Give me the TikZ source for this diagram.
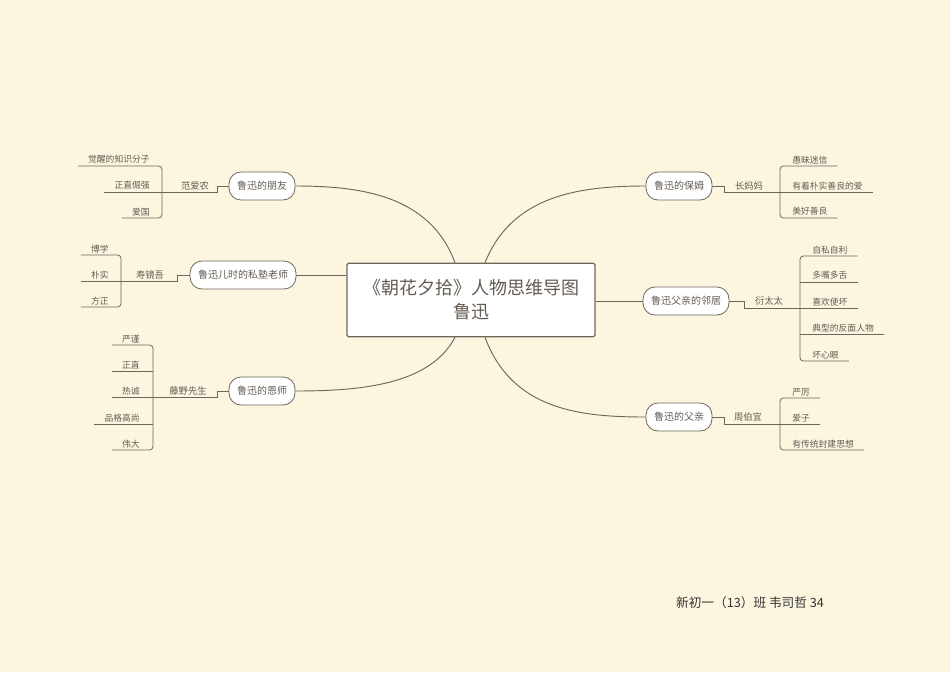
\documentclass[tikz,border=0pt]{standalone}
\usepackage{fontspec}
\setmainfont{Noto Sans CJK SC}
\definecolor{bg}{RGB}{252,245,224}
\definecolor{ln}{RGB}{110,102,92}
\definecolor{tx}{RGB}{100,92,84}
\begin{document}
\begin{tikzpicture}[x=0.75pt,y=-0.75pt,
  pill/.style={draw=ln,fill=white,rounded corners=9pt,minimum height=21pt,inner xsep=6pt,font=\fontsize{7.5}{9}\selectfont,text=tx,line width=0.6pt},
  lab/.style={font=\fontsize{7}{8}\selectfont,text=tx,inner sep=1pt},
  leaf/.style={font=\fontsize{6.6}{8}\selectfont,text=tx,inner sep=1.5pt},
  con/.style={draw=ln,line width=0.7pt},
  br/.style={draw=ln,line width=0.6pt,rounded corners=2.5pt}]
\fill[bg] (0,0) rectangle (950,672);
\useasboundingbox (0,0) rectangle (950,672);
\node[draw=ln,fill=white,line width=0.9pt,minimum width=186pt,minimum height=55pt,align=center,text=tx,font=\fontsize{13.5}{18}\selectfont,rounded corners=1pt] (c) at (471,300) {《朝花夕拾》人物思维导图\\鲁迅};
% left pills
\node[pill] (f) at (262,186) {鲁迅的朋友};
\node[pill] (t) at (243,275) {鲁迅儿时的私塾老师};
\node[pill] (m) at (262,391) {鲁迅的恩师};
\node[pill] (n) at (679,186) {鲁迅的保姆};
\node[pill] (nb) at (686,301) {鲁迅父亲的邻居};
\node[pill] (fa) at (679,417) {鲁迅的父亲};
\draw[con] (c.north)++(-16,0) coordinate (c1) .. controls (430,195) and (360,186) .. (f.east);
\draw[con] (c.west |- t) -- (t.east);
\draw[con] (c.south)++(-16,0) coordinate (c2) .. controls (430,385) and (360,391) .. (m.east);
\draw[con] (c.north)++(14,0) coordinate (c3) .. controls (512,195) and (580,186) .. (n.west);
\draw[con] (c.east |- nb) -- (nb.west);
\draw[con] (c.south)++(14,0) coordinate (c4) .. controls (512,410) and (580,417) .. (fa.west);
% left: friend
\node[lab] (fl) at (195,186) {范爱农};
\draw[con,line width=0.6pt] (f.west) -- (217,186) -- (217,192) -- (162,192);
\node[leaf,anchor=south east] (f1) at (152,166) {觉醒的知识分子};
\node[leaf,anchor=south east] (f2) at (152,192) {正直倔强};
\node[leaf,anchor=south east] (f3) at (152,218) {爱国};
\draw[br] ([xshift=-6pt]f1.south west) -- (162,166) -- (162,218) -- ([xshift=-6pt]f3.south west);
\draw[br] (162,192) -- ([xshift=-6pt]f2.south west);
% teacher
\node[lab] (tl) at (150,275) {寿镜吾};
\draw[con,line width=0.6pt] (t.west) -- (177,275) -- (177,281) -- (121,281);
\node[leaf,anchor=south east] (t1) at (111,255) {博学};
\node[leaf,anchor=south east] (t2) at (111,281) {朴实};
\node[leaf,anchor=south east] (t3) at (111,307) {方正};
\draw[br] ([xshift=-6pt]t1.south west) -- (121,255) -- (121,307) -- ([xshift=-6pt]t3.south west);
\draw[br] (121,281) -- ([xshift=-6pt]t2.south west);
% mentor
\node[lab] (ml) at (188,391) {藤野先生};
\draw[con,line width=0.6pt] (m.west) -- (217,391) -- (217,397) -- (153,397);
\node[leaf,anchor=south east] (m1) at (142,345) {严谨};
\node[leaf,anchor=south east] (m2) at (142,371) {正直};
\node[leaf,anchor=south east] (m3) at (142,397) {热诚};
\node[leaf,anchor=south east] (m4) at (142,424) {品格高尚};
\node[leaf,anchor=south east] (m5) at (142,450) {伟大};
\draw[br] ([xshift=-6pt]m1.south west) -- (153,345) -- (153,450) -- ([xshift=-6pt]m5.south west);
\draw[br] (153,371) -- ([xshift=-6pt]m2.south west);
\draw[br] (153,397) -- ([xshift=-6pt]m3.south west);
\draw[br] (153,424) -- ([xshift=-6pt]m4.south west);
% nanny
\node[lab] (nl) at (749,186) {长妈妈};
\draw[con,line width=0.6pt] (n.east) -- (724,186) -- (724,192) -- (780,192);
\node[leaf,anchor=south west] (n1) at (790,166) {愚昧迷信};
\node[leaf,anchor=south west] (n2) at (790,192) {有着朴实善良的爱};
\node[leaf,anchor=south west] (n3) at (790,218) {美好善良};
\draw[br] ([xshift=6pt]n1.south east) -- (780,166) -- (780,218) -- ([xshift=6pt]n3.south east);
\draw[br] (780,192) -- ([xshift=6pt]n2.south east);
% neighbour
\node[lab] (bl) at (769,301) {衍太太};
\draw[con,line width=0.6pt] (nb.east) -- (744,301) -- (744,308) -- (800,308);
\node[leaf,anchor=south west] (b1) at (810,256) {自私自利};
\node[leaf,anchor=south west] (b2) at (810,282) {多嘴多舌};
\node[leaf,anchor=south west] (b3) at (810,308) {喜欢使坏};
\node[leaf,anchor=south west] (b4) at (810,334) {典型的反面人物};
\node[leaf,anchor=south west] (b5) at (810,361) {坏心眼};
\draw[br] ([xshift=6pt]b1.south east) -- (800,256) -- (800,361) -- ([xshift=6pt]b5.south east);
\draw[br] (800,282) -- ([xshift=6pt]b2.south east);
\draw[br] (800,308) -- ([xshift=6pt]b3.south east);
\draw[br] (800,334) -- ([xshift=6pt]b4.south east);
% father
\node[lab] (al) at (748,417) {周伯宜};
\draw[con,line width=0.6pt] (fa.east) -- (724,417) -- (724,424) -- (780,424);
\node[leaf,anchor=south west] (a1) at (790,398) {严厉};
\node[leaf,anchor=south west] (a2) at (790,424) {爱子};
\node[leaf,anchor=south west] (a3) at (790,450) {有传统封建思想};
\draw[br] ([xshift=6pt]a1.south east) -- (780,398) -- (780,450) -- ([xshift=6pt]a3.south east);
\draw[br] (780,424) -- ([xshift=6pt]a2.south east);
% footer
\node[font=\fontsize{9.5}{11}\selectfont,text=black!80] (ft) at (750,603) {新初一（13）班 韦司哲 34};
\end{tikzpicture}
\end{document}
